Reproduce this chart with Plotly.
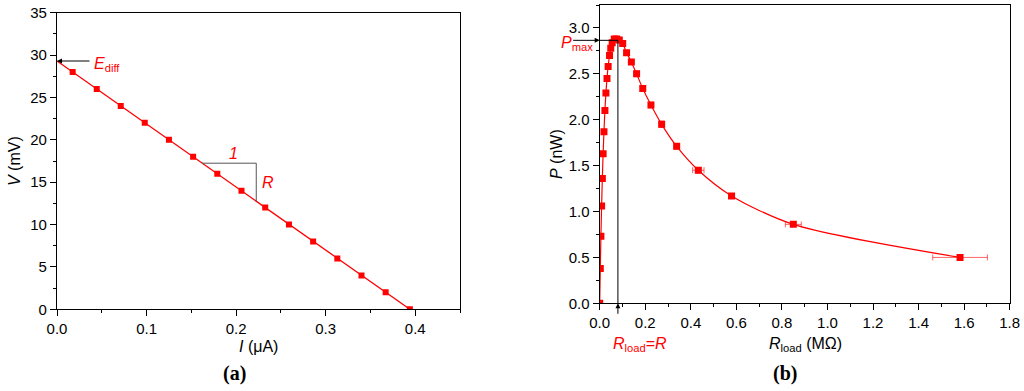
import plotly.graph_objects as go

# ---------------- data ----------------
# panel (a): V-I curve
I_uA = [0.0175, 0.0444, 0.0712, 0.098, 0.125, 0.152, 0.179, 0.206, 0.2325, 0.259, 0.286, 0.313, 0.340, 0.367, 0.394]
V_mV = [28, 26, 24, 22, 20, 18, 16, 14, 12, 10, 8, 6, 4, 2, 0]
fit_I = [0.0, 0.394]
fit_V = [29.3, 0.0]
E_diff = 29.3
slope_I = [0.162, 0.2225]
slope_V = [17.24, 12.75]

# panel (b): P vs R_load
R_load = [0.0, 0.0026, 0.0053, 0.0084, 0.0116, 0.015, 0.0187, 0.0229, 0.0273, 0.032, 0.037,
          0.0432, 0.0485, 0.0548, 0.064, 0.0746, 0.086, 0.101, 0.118, 0.139, 0.162, 0.189,
          0.225, 0.272, 0.338, 0.433, 0.579, 0.850, 1.582]
P_nW = [0.0, 0.38, 0.73, 1.06, 1.36, 1.63, 1.87, 2.10, 2.29, 2.45, 2.58,
        2.70, 2.78, 2.84, 2.88, 2.88, 2.87, 2.83, 2.73, 2.63, 2.50, 2.34,
        2.16, 1.95, 1.71, 1.45, 1.17, 0.86, 0.50]
R_err = [0, 0, 0, 0, 0, 0, 0, 0, 0, 0, 0,
         0, 0, 0, 0.002, 0.003, 0.003, 0.004, 0.005, 0.005, 0.006, 0.007,
         0.008, 0.010, 0.012, 0.025, 0.012, 0.035, 0.12]
P_err = [0, 0.01, 0.01, 0.015, 0.015, 0.02, 0.02, 0.02, 0.02, 0.02, 0.02,
         0.02, 0.02, 0.02, 0.02, 0.02, 0.02, 0.02, 0.02, 0.02, 0.03, 0.03,
         0.03, 0.035, 0.03, 0.03, 0.02, 0.02, 0.03]
P_max = 2.865
R_match = 0.08

RED = "#ff0000"
FONT = "Liberation Sans, Arial, sans-serif"
SERIF = "Liberation Serif, DejaVu Serif, serif"

fig = go.Figure()

fig.add_trace(go.Scatter(x=fit_I, y=fit_V, mode="lines", line=dict(color=RED, width=1.3),
                         xaxis="x", yaxis="y", showlegend=False, hoverinfo="skip"))
fig.add_trace(go.Scatter(x=I_uA, y=V_mV, mode="markers",
                         marker=dict(symbol="square", size=6, color=RED),
                         xaxis="x", yaxis="y", showlegend=False))

fig.add_trace(go.Scatter(x=R_load, y=P_nW, mode="lines+markers",
                         line=dict(color=RED, width=1.2, shape="spline", smoothing=0.8),
                         marker=dict(symbol="square", size=7, color=RED),
                         error_x=dict(type="data", array=R_err, color="rgba(255,0,0,0.6)", thickness=1, width=3),
                         error_y=dict(type="data", array=P_err, color="rgba(255,0,0,0.6)", thickness=1, width=3),
                         xaxis="x2", yaxis="y2", showlegend=False))

W, H = 1024, 391
def px_x(p): return p / W
def px_y(p): return 1 - p / H

axis_common = dict(showline=True, linecolor="black", linewidth=1.3, mirror=True,
                   ticks="outside", ticklen=6, tickwidth=1.2, tickcolor="black",
                   showgrid=False, zeroline=False, automargin=False,
                   tickfont=dict(family=FONT, size=15, color="black"))

fig.update_layout(
    width=W, height=H, margin=dict(l=0, r=0, t=0, b=0),
    paper_bgcolor="white", plot_bgcolor="white",
    xaxis=dict(axis_common, domain=[px_x(57), px_x(460)], range=[0, 0.45], dtick=0.1,
               tickformat=".1f", anchor="y",
               minor=dict(dtick=0.05, ticklen=3, tickcolor="black", ticks="outside")),
    yaxis=dict(axis_common, domain=[px_y(309.3), px_y(12.7)], range=[0, 35], dtick=5,
               anchor="x",
               minor=dict(dtick=2.5, ticklen=3, tickcolor="black", ticks="outside")),
    xaxis2=dict(axis_common, domain=[px_x(599.7), px_x(1009.7)], range=[0, 1.8], dtick=0.2,
                tickformat=".1f", anchor="y2",
                minor=dict(dtick=0.1, ticklen=3, tickcolor="black", ticks="outside")),
    yaxis2=dict(axis_common, domain=[px_y(303.3), px_y(5)], range=[0, 3.25], dtick=0.5,
                tickformat=".1f", anchor="x2",
                minor=dict(dtick=0.25, ticklen=3, tickcolor="black", ticks="outside")),
)

shapes = [
    dict(type="line", xref="x", yref="y", x0=slope_I[0], y0=slope_V[0], x1=slope_I[1], y1=slope_V[0],
         line=dict(color="#555555", width=1)),
    dict(type="line", xref="x", yref="y", x0=slope_I[1], y0=slope_V[0], x1=slope_I[1], y1=slope_V[1],
         line=dict(color="#555555", width=1)),
    dict(type="line", xref="x2", yref="y2", x0=0, y0=P_max, x1=R_match, y1=P_max,
         line=dict(color="black", width=1)),
    dict(type="line", xref="x2", yref="y2", x0=R_match, y0=0, x1=R_match, y1=P_max,
         line=dict(color="black", width=1)),
]
fig.update_layout(shapes=shapes)

red_font = dict(family=FONT, size=16, color=RED)
title_font = dict(family=FONT, size=16, color="black")
C = dict(showarrow=False, xanchor="center", yanchor="middle")
ann = [
    # axis titles
    dict(xref="paper", yref="paper", x=px_x(258), y=px_y(346), text="<i>I</i> (μA)", font=title_font, **C),
    dict(xref="paper", yref="paper", x=px_x(14), y=px_y(161), text="<i>V</i> (mV)", textangle=-90,
         font=title_font, **C),
    dict(xref="paper", yref="paper", x=px_x(805.5), y=px_y(344), text="<i>R</i><sub>load</sub> (MΩ)",
         font=title_font, **C),
    dict(xref="paper", yref="paper", x=px_x(556), y=px_y(154), text="<i>P</i> (nW)", textangle=-90,
         font=title_font, **C),
    # E_diff arrow
    dict(xref="x", yref="y", x=0, y=E_diff, ax=34, ay=0, text="", showarrow=True,
         arrowhead=2, arrowsize=1, arrowwidth=1, arrowcolor="black"),
    dict(xref="x", yref="y", x=0.039, y=E_diff - 0.4, text="<i>E</i><sub>diff</sub>", showarrow=False,
         xanchor="left", yanchor="middle", font=red_font),
    dict(xref="x", yref="y", x=0.197, y=18.4, text="<i>1</i>", font=red_font, **C),
    dict(xref="x", yref="y", x=0.236, y=15.0, text="<i>R</i>", font=red_font, **C),
    # P_max arrow
    dict(xref="x2", yref="y2", x=0, y=P_max, ax=-28, ay=0, text="", showarrow=True,
         arrowhead=2, arrowsize=1, arrowwidth=1, arrowcolor="black"),
    dict(xref="paper", yref="paper", x=px_x(559), y=px_y(43), text="<i>P</i><sub>max</sub>",
         showarrow=False, xanchor="left", yanchor="middle", font=dict(family=FONT, size=16, color=RED)),
    # R_load = R arrow
    dict(xref="x2", yref="y2", x=R_match, y=0, ax=0, ay=12, text="", showarrow=True,
         arrowhead=2, arrowsize=1, arrowwidth=1, arrowcolor="black"),
    dict(xref="paper", yref="paper", x=px_x(639.5), y=px_y(344), text="<i>R</i><sub>load</sub>=<i>R</i>",
         font=red_font, **C),
    # panel labels
    dict(xref="paper", yref="paper", x=px_x(234), y=px_y(373), text="<b>(a)</b>",
         font=dict(family=SERIF, size=20, color="black"), **C),
    dict(xref="paper", yref="paper", x=px_x(785), y=px_y(373), text="<b>(b)</b>",
         font=dict(family=SERIF, size=20, color="black"), **C),
]
fig.update_layout(annotations=ann)

# remove the default 8px page margin so the figure fills the window exactly
fig.write_html("out.html", config={"displayModeBar": False},
               post_script="document.body.style.margin='0';document.body.style.overflow='hidden';")
